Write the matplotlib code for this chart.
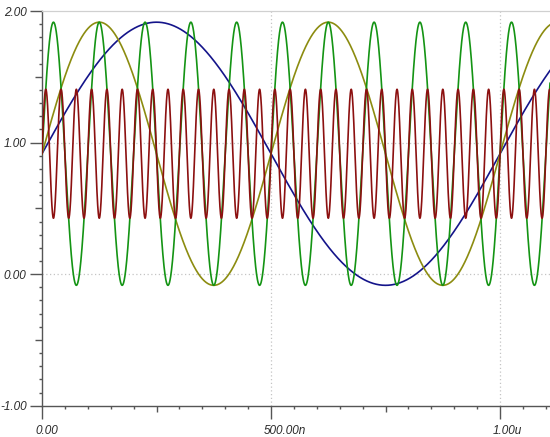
import numpy as np
import matplotlib
matplotlib.use("Agg")
import matplotlib.pyplot as plt
from matplotlib.transforms import ScaledTranslation
from matplotlib.ticker import MultipleLocator

# ---- data (signal parameters) ----
series_names = ["f1", "f2", "f10", "f30"]
freqs_mhz = [1.0, 2.0, 10.0, 30.0]
amplitudes = [1.0, 1.0, 1.0, 0.49]
offsets = [0.915, 0.915, 0.915, 0.915]
colors = ["#14148a", "#8c8c10", "#149414", "#8c1010"]
draw_order = [1, 0, 2, 3]

x_ticks = [0.0, 0.5, 1.0]
x_tick_labels = ["0.00", "500.00n", "1.00u"]
y_ticks = [-1.0, 0.0, 1.0, 2.0]
y_tick_labels = ["-1.00", "0.00", "1.00", "2.00"]
x_max = 1.109  # microseconds at right edge

t = np.linspace(0.0, x_max, 6000)

fig = plt.figure(figsize=(5.5, 4.37), dpi=100)
ax = fig.add_axes([42 / 550, 1 - 405.7 / 437, 1 - 42 / 550, (405.7 - 11) / 437])

for i in draw_order:
    y = offsets[i] + amplitudes[i] * np.sin(2 * np.pi * freqs_mhz[i] * t)
    ax.plot(t, y, color=colors[i], lw=1.2, solid_joinstyle="round", zorder=3 + i)

ax.set_xlim(0, x_max)
ax.set_ylim(-1, 2)

# grid
for yv in [0.0, 1.0]:
    ax.axhline(yv, color="#c4c4c4", lw=0.9, ls=(0, (1, 2)), zorder=1)
for xv in [0.5, 1.0]:
    ax.axvline(xv, color="#c4c4c4", lw=0.9, ls=(0, (1, 2)), zorder=1)

ax.spines["right"].set_visible(False)
ax.spines["top"].set_color("#d0d0d0")
ax.spines["top"].set_linewidth(0.9)
for s in ["left", "bottom"]:
    ax.spines[s].set_color("#555555")
    ax.spines[s].set_linewidth(1.0)

ax.set_xticks(x_ticks)
ax.set_xticklabels(x_tick_labels)
ax.set_yticks(y_ticks)
ax.set_yticklabels(y_tick_labels)
ax.xaxis.set_minor_locator(MultipleLocator(0.05))
ax.yaxis.set_minor_locator(MultipleLocator(0.1))

ax.tick_params(axis="both", which="major", length=9, width=1.0, color="#555555",
               labelsize=8.5, labelcolor="#2a2a2a")
ax.tick_params(axis="both", which="minor", length=2.3, width=1.0, color="#555555")
ax.tick_params(axis="y", which="major", pad=2)
ax.tick_params(axis="x", which="major", pad=5)

for lab in ax.get_xticklabels() + ax.get_yticklabels():
    lab.set_fontstyle("italic")
    lab.set_fontfamily("Liberation Sans")

off = ScaledTranslation(-7 / 100, 0, fig.dpi_scale_trans)
for lab in ax.get_xticklabels():
    lab.set_horizontalalignment("left")
    lab.set_transform(lab.get_transform() + off)

# medium ticks at quarter / half positions
for tk, loc in zip(ax.xaxis.get_minor_ticks(len(ax.xaxis.get_minorticklocs())),
                   ax.xaxis.get_minorticklocs()):
    if abs((loc / 0.25) - round(loc / 0.25)) < 1e-6:
        tk.tick1line.set_markersize(4.6)
for tk, loc in zip(ax.yaxis.get_minor_ticks(len(ax.yaxis.get_minorticklocs())),
                   ax.yaxis.get_minorticklocs()):
    if abs((loc / 0.5) - round(loc / 0.5)) < 1e-6:
        tk.tick1line.set_markersize(4.8)

fig.savefig("out.png", dpi=100)
